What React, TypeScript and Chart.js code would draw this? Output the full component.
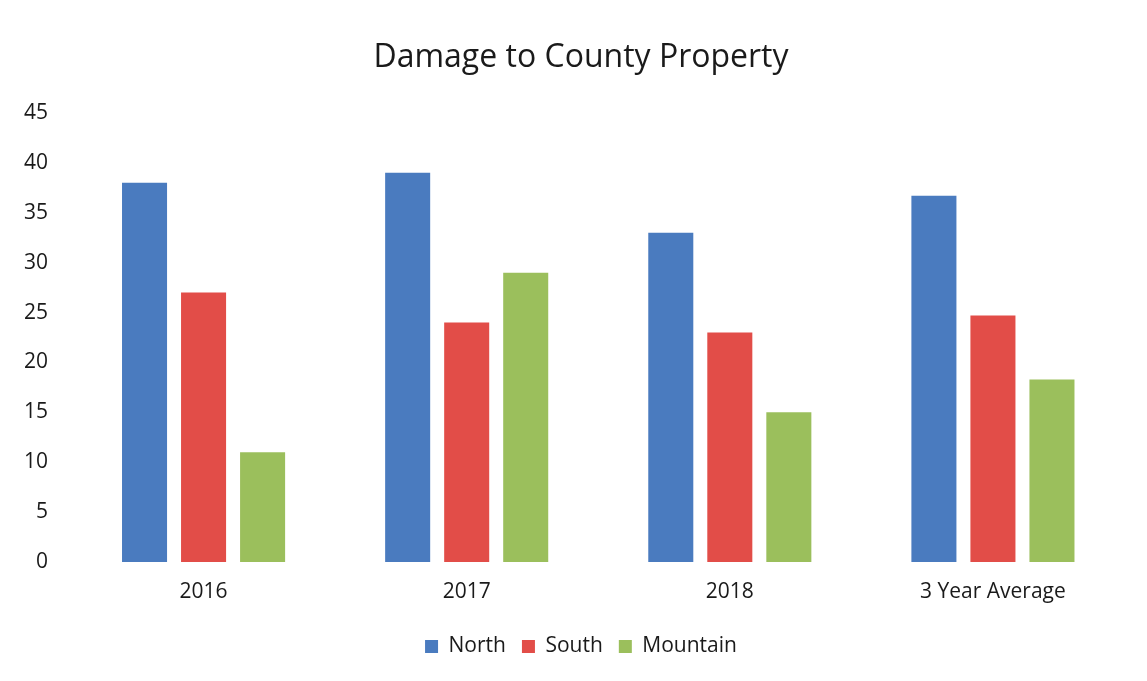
import React, { useEffect, useRef } from "react";
import { Chart, registerables } from "chart.js";

Chart.register(...registerables);

const categories = ["2016", "2017", "2018", "3 Year Average"];
const northValues = [38, 39, 33, 36.7];
const southValues = [27, 24, 23, 24.7];
const mountainValues = [11, 29, 15, 18.3];
const yTicks = [0, 5, 10, 15, 20, 25, 30, 35, 40, 45];

const FONT = "'Open Sans', 'DejaVu Sans', sans-serif";

export default function App() {
  const ref = useRef<HTMLCanvasElement | null>(null);

  useEffect(() => {
    if (!ref.current) return;
    const chart = new Chart(ref.current, {
      type: "bar",
      data: {
        labels: categories,
        datasets: [
          { label: "North", data: northValues, backgroundColor: "#4a7bbf", borderWidth: 0 },
          { label: "South", data: southValues, backgroundColor: "#e24d48", borderWidth: 0 },
          { label: "Mountain", data: mountainValues, backgroundColor: "#9bbf5c", borderWidth: 0 },
        ],
      },
      options: {
        animation: false,
        responsive: false,
        maintainAspectRatio: false,
        layout: { padding: { left: 37.5, right: 22.5, top: 39, bottom: 14 } },
        datasets: {
          bar: { categoryPercentage: 0.673, barPercentage: 0.763 },
        },
        plugins: {
          title: {
            display: true,
            text: "Damage to County Property",
            color: "#1a1a1a",
            font: { family: FONT, size: 32, weight: "normal" },
            padding: { top: 0, bottom: 35.6 },
          },
          legend: {
            display: true,
            position: "bottom",
            labels: {
              color: "#1a1a1a",
              font: { family: FONT, size: 21 },
              boxWidth: 13,
              boxHeight: 13,
              padding: 16,
            },
          },
          tooltip: { enabled: false },
        },
        scales: {
          x: {
            afterFit: (scale: any) => {
              scale.height = 58;
            },
            grid: { display: false, drawTicks: false },
            border: { display: false },
            ticks: { color: "#1a1a1a", font: { family: FONT, size: 21 }, padding: 17 },
          },
          y: {
            min: 0,
            max: 45,
            afterFit: (scale: any) => {
              scale.width = 34.5;
              scale._computeLabelArea = () => undefined;
            },
            afterBuildTicks: (scale: any) => {
              scale.ticks = yTicks.map((v) => ({ value: v }));
            },
            grid: { display: false, drawTicks: false },
            border: { display: false },
            ticks: { color: "#1a1a1a", font: { family: FONT, size: 21 }, padding: 24 },
          },
        },
      },
    });
    return () => chart.destroy();
  }, []);

  return (
    <div style={{ position: "fixed", left: 0, top: 0, width: 1147, height: 681, background: "#fff" }}>
      <canvas ref={ref} width={1147} height={681} style={{ width: 1147, height: 681 }} />
    </div>
  );
}
